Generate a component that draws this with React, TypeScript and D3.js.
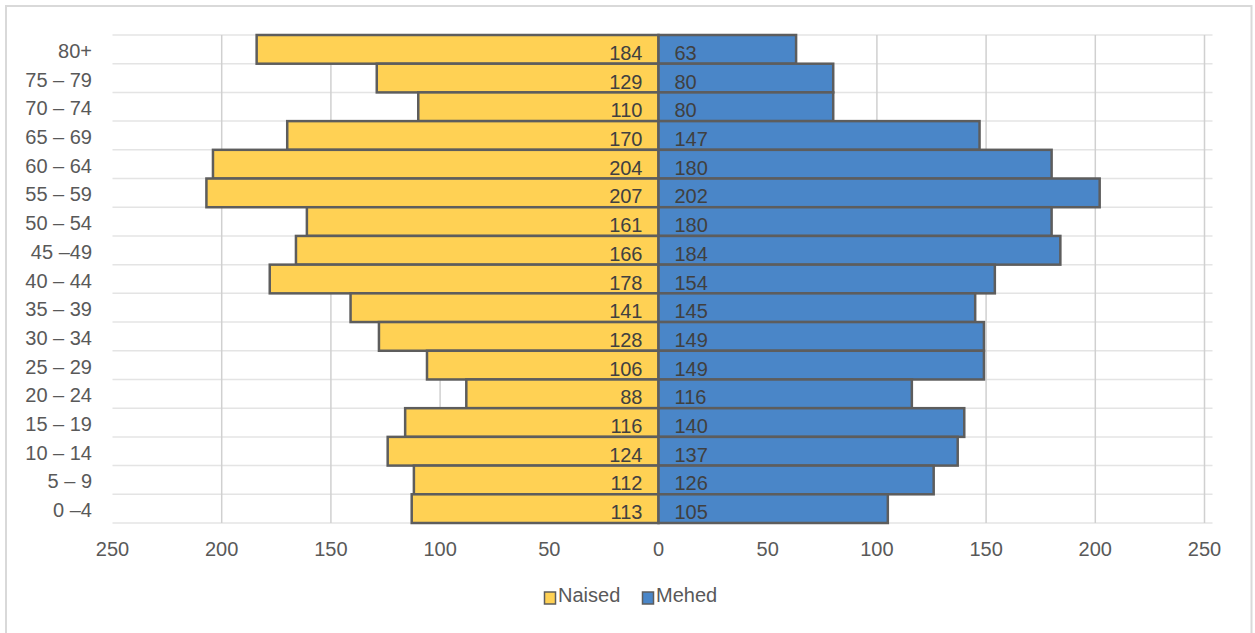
import React from "react";
import * as d3 from "d3";

const categories = ["80+", "75 – 79", "70 – 74", "65 – 69", "60 – 64", "55 – 59", "50 – 54", "45 –49", "40 – 44", "35 – 39", "30 – 34", "25 – 29", "20 – 24", "15 – 19", "10 – 14", "5 – 9", "0 –4"];
const naised = [184, 129, 110, 170, 204, 207, 161, 166, 178, 141, 128, 106, 88, 116, 124, 112, 113];
const mehed = [63, 80, 80, 147, 180, 202, 180, 184, 154, 145, 149, 149, 116, 140, 137, 126, 105];
const xTicks = [-250, -200, -150, -100, -50, 0, 50, 100, 150, 200, 250];
const seriesNames = ["Naised", "Mehed"];

const W = 1255, H = 633;
const YELLOW = "#FFD154";
const BLUE = "#4A86C8";
const STROKE = "#5d5d5d";
const FONT = "'Liberation Sans', Arial, sans-serif";

export default function App() {
  const x = d3.scaleLinear().domain([-250, 250]).range([112.5, 1204.5]);
  const y = d3.scaleBand<string>().domain(categories).range([35, 523]).padding(0);
  const bw = y.bandwidth();

  return (
    <div style={{ position: "absolute", left: 0, top: 0 }}>
      <svg width={W} height={H} style={{ display: "block", fontFamily: FONT }}>
        <rect x={0} y={0} width={W} height={H} fill="#fff" />
        <rect x={6} y={6} width={1245.5} height={640} fill="none" stroke="#d9d9d9" strokeWidth={2} />
        {/* horizontal gridlines */}
        {categories.map((c) => (
          <line key={"h" + c} x1={x(-250)} x2={x(250) + 8} y1={y(c)!} y2={y(c)!} stroke="#e4e4e4" strokeWidth={1.5} />
        ))}
        <line x1={x(-250)} x2={x(250) + 8} y1={y.range()[1]} y2={y.range()[1]} stroke="#e4e4e4" strokeWidth={1.5} />
        {/* vertical gridlines */}
        {xTicks.filter((t) => t !== -250 && t !== 0).map((t) => (
          <line key={"v" + t} x1={x(t)} x2={x(t)} y1={35} y2={523} stroke="#d0d0d0" strokeWidth={1.5} />
        ))}
        {/* bars */}
        {categories.map((c, i) => (
          <g key={"b" + c}>
            <rect x={x(-naised[i])} y={y(c)!} width={x(0) - x(-naised[i])} height={bw} fill={YELLOW} stroke={STROKE} strokeWidth={2.5} />
            <rect x={x(0)} y={y(c)!} width={x(mehed[i]) - x(0)} height={bw} fill={BLUE} stroke={STROKE} strokeWidth={2.5} />
          </g>
        ))}
        {/* data labels */}
        {categories.map((c, i) => (
          <g key={"l" + c} fontSize={20} fill="#404040">
            <text x={x(0) - 16} y={y(c)! + bw / 2 + 10.5} textAnchor="end">{naised[i]}</text>
            <text x={x(0) + 16} y={y(c)! + bw / 2 + 10.5} textAnchor="start">{mehed[i]}</text>
          </g>
        ))}
        {/* category labels */}
        {categories.map((c) => (
          <text key={"c" + c} x={92} y={y(c)! + bw / 2 + 8.5} textAnchor="end" fontSize={20} fill="#595959">{c}</text>
        ))}
        {/* x tick labels */}
        {xTicks.map((t) => (
          <text key={"t" + t} x={x(t)} y={556} textAnchor="middle" fontSize={20} fill="#595959">{Math.abs(t)}</text>
        ))}
        {/* legend */}
        <g fontSize={20} fill="#595959">
          <rect x={544.5} y={592} width={11} height={12} fill={YELLOW} stroke={STROKE} strokeWidth={1.5} />
          <text x={558} y={602}>{seriesNames[0]}</text>
          <rect x={642.5} y={592} width={11} height={12} fill={BLUE} stroke={STROKE} strokeWidth={1.5} />
          <text x={656} y={602}>{seriesNames[1]}</text>
        </g>
      </svg>
    </div>
  );
}
